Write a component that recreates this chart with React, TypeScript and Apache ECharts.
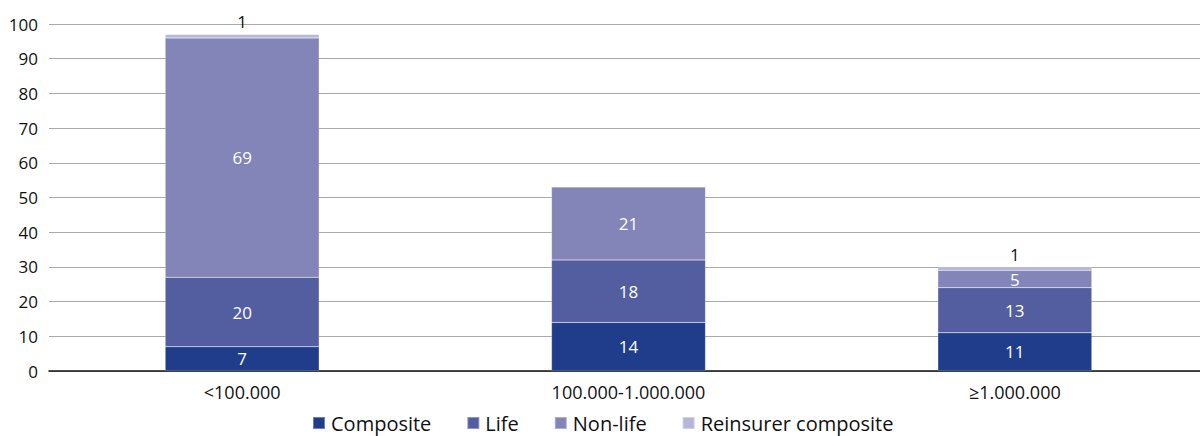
import React, { useEffect, useRef } from "react";
import * as echarts from "echarts";

const categories = ["<100.000", "100.000-1.000.000", "≥1.000.000"];
const composite = [7, 14, 11];
const life = [20, 18, 13];
const nonLife = [69, 21, 5];
const reinsurer: (number | null)[] = [1, null, 1];
const yTicks = { min: 0, max: 100, interval: 10 };

const FONT = "'Open Sans', Lato, sans-serif";

export default function App() {
  const ref = useRef<HTMLDivElement>(null);
  useEffect(() => {
    if (!ref.current) return;
    const chart = echarts.init(ref.current, undefined, { renderer: "svg" });
    const mk = (name: string, data: (number | null)[], color: string, top = false) => ({
      name,
      type: "bar",
      stack: "total",
      data,
      barWidth: 154,
      itemStyle: { color, borderColor: "rgba(255,255,255,0.35)", borderWidth: 0.5 },
      label: {
        show: true,
        position: top ? "top" : "inside",
        color: top ? "#111" : "#fff",
        fontSize: 17,
        fontFamily: FONT,
        distance: 4,
      },
    });
    chart.setOption({
      animation: false,
      textStyle: { fontFamily: FONT },
      grid: { left: 49, right: 0, top: 24, height: 347 },
      legend: {
        top: 408,
        left: 307,
        itemWidth: 12,
        itemHeight: 12,
        itemGap: 35,
        icon: "rect",
        textStyle: { fontSize: 20, color: "#111", fontFamily: FONT, padding: [0, 0, 0, 1] },
        data: ["Composite", "Life", "Non-life", "Reinsurer composite"],
      },
      xAxis: {
        type: "category",
        data: categories,
        axisTick: { show: false },
        axisLine: { lineStyle: { color: "#111", width: 1.5 } },
        axisLabel: { fontSize: 18, color: "#111", margin: 12, fontFamily: FONT },
      },
      yAxis: {
        type: "value",
        ...yTicks,
        axisLine: { show: false },
        axisTick: { show: false },
        splitLine: { lineStyle: { color: "#aaa", width: 1.2 } },
        axisLabel: { fontSize: 17, color: "#111", margin: 11, fontFamily: FONT },
      },
      series: [
        mk("Composite", composite, "#1f3d8a"),
        mk("Life", life, "#525e9f"),
        mk("Non-life", nonLife, "#8385b8"),
        mk("Reinsurer composite", reinsurer, "#b6b6d8", true),
      ],
    });
    return () => chart.dispose();
  }, []);
  return (
    <div style={{ position: "absolute", left: 0, top: 0, width: 1200, height: 436, overflow: "hidden" }}>
      <div ref={ref} style={{ width: 1208, height: 436 }} />
    </div>
  );
}
